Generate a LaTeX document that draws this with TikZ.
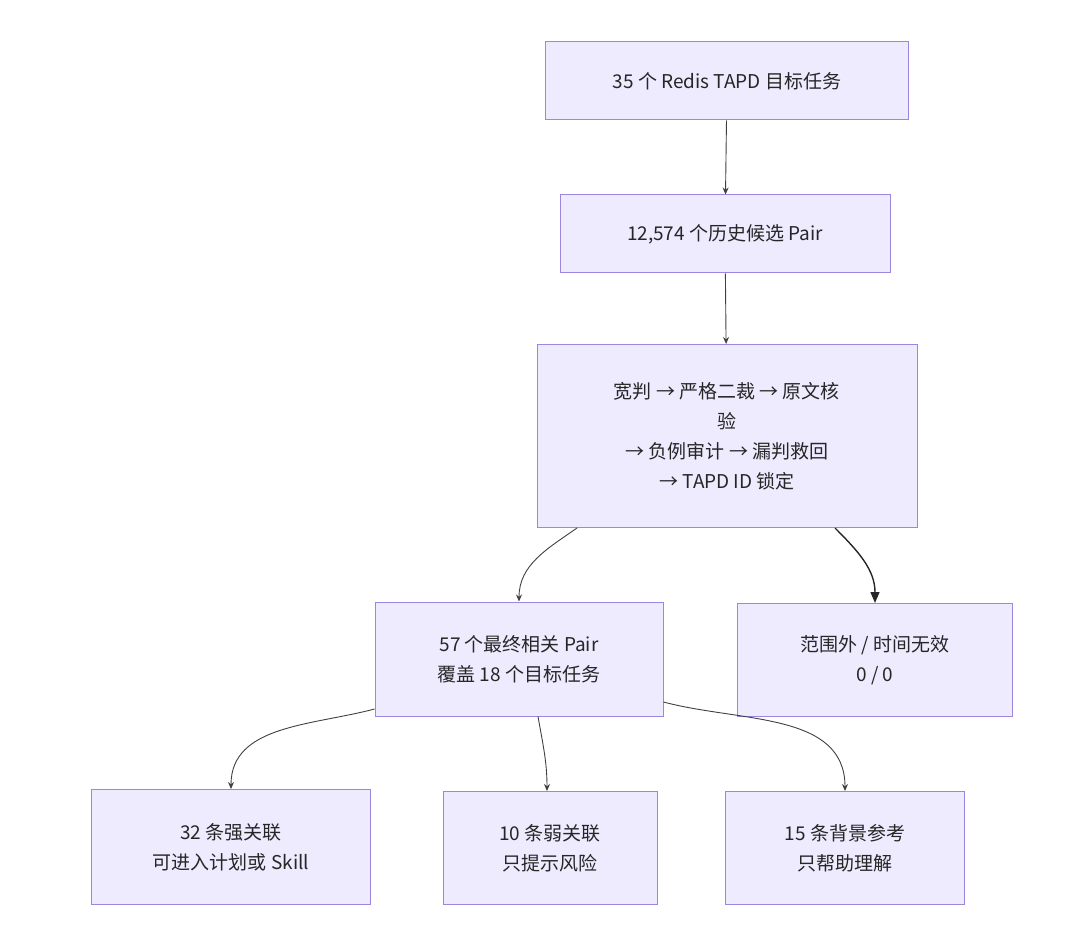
\documentclass[tikz,border=0pt]{standalone}
\usepackage{fontspec}
\setmainfont{Noto Sans CJK SC}
\usetikzlibrary{positioning,calc,arrows.meta,patterns}
\definecolor{boxline}{HTML}{9C86E0}
\definecolor{boxfill}{HTML}{EEEBFF}
\tikzset{
  >={Stealth[length=7pt,width=6pt]},
  my box/.style={
    draw=boxline,
    fill=boxfill,
    line width=1pt,
    align=center,
    inner sep=0pt,
    font=\fontsize{19}{30}\selectfont,
    text=black!85
  },
  my link/.style={->,draw=black!75,line width=0.9pt},
  my strong/.style={-{Triangle[length=11pt,width=9pt]},draw=black!85,line width=1.4pt}
}
\begin{document}
\begin{tikzpicture}[x=1pt,y=1pt]
\useasboundingbox (0,0) rectangle (1080,-936);
% top chain
\node[my box,minimum width=363pt,minimum height=78pt] (tasks)  at (727,-81)  {35 个 Redis TAPD 目标任务};
\node[my box,minimum width=330pt,minimum height=78pt] (pairs)  at (725,-234) {12,574 个历史候选 Pair};
\node[my box,minimum width=380pt,minimum height=183pt] (judge) at (727,-436)
  {宽判 → 严格二裁 → 原文核\\验\\→ 负例审计 → 漏判救回\\→ TAPD ID 锁定};
% results
\node[my box,minimum width=288pt,minimum height=114pt] (final) at (519,-659) {57 个最终相关 Pair\\覆盖 18 个目标任务};
\node[my box,minimum width=275pt,minimum height=113pt] (out)   at (875,-660) {范围外 / 时间无效\\0 / 0};
% grades
\node[my box,minimum width=279pt,minimum height=115pt] (strong) at (231,-847) {32 条强关联\\可进入计划或 Skill};
\node[my box,minimum width=214pt,minimum height=113pt] (weak)   at (550,-848) {10 条弱关联\\只提示风险};
\node[my box,minimum width=239pt,minimum height=113pt] (back)   at (845,-848) {15 条背景参考\\只帮助理解};
% links
\draw[my link] (tasks) -- (pairs);
\draw[my link] (pairs) -- (judge);
\draw[my link] ([xshift=-150pt]judge.south) to[out=215,in=90] (final.north);
\draw[my strong] ([xshift=108pt]judge.south) to[out=-45,in=90] (out.north);
\draw[my link] ([yshift=-50pt]final.west) to[out=195,in=90] (strong.north);
\draw[my link] ([xshift=19pt]final.south) to[out=-80,in=90] ([xshift=-3pt]weak.north);
\draw[my link] ([yshift=-43pt]final.east) to[out=-15,in=90] (back.north);
\end{tikzpicture}
\end{document}
